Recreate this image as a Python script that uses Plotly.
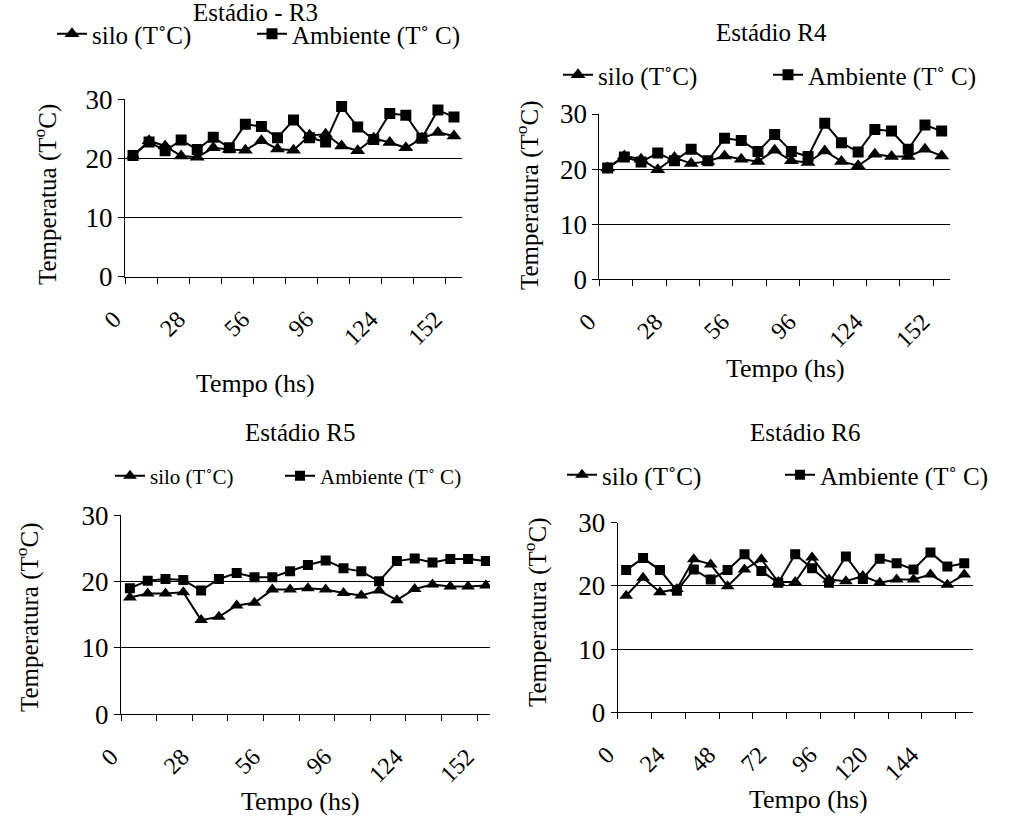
import plotly.graph_objects as go

# ---------------- data ----------------
point_index = list(range(21))

r3_silo = [20.4, 23.0, 22.1, 20.4, 20.2, 21.8, 21.5, 21.4, 23.0, 21.6, 21.4,
           23.9, 24.1, 22.1, 21.3, 23.4, 22.7, 21.8, 23.4, 24.4, 23.8]
r3_amb = [20.5, 22.8, 21.3, 23.1, 21.5, 23.6, 21.8, 25.8, 25.4, 23.5, 26.5,
          23.5, 22.8, 28.8, 25.3, 23.2, 27.6, 27.3, 23.4, 28.2, 27.0]

r4_silo = [20.2, 22.4, 21.8, 19.9, 22.1, 21.0, 21.4, 22.4, 21.8, 21.4, 23.4,
           21.5, 21.2, 23.3, 21.4, 20.6, 22.7, 22.3, 22.3, 23.6, 22.4]
r4_amb = [20.2, 22.2, 21.3, 22.9, 21.5, 23.6, 21.5, 25.6, 25.2, 23.2, 26.3,
          23.2, 22.3, 28.3, 24.8, 23.1, 27.2, 26.9, 23.6, 28.0, 26.9]

r5_silo = [17.6, 18.2, 18.2, 18.4, 14.2, 14.7, 16.4, 16.8, 18.8, 18.8, 19.0,
           18.8, 18.3, 17.9, 18.65, 17.2, 18.9, 19.55, 19.25, 19.25, 19.4]
r5_amb = [19.0, 20.15, 20.4, 20.25, 18.65, 20.4, 21.3, 20.65, 20.65, 21.55, 22.5,
          23.2, 22.0, 21.55, 20.05, 23.1, 23.5, 22.9, 23.4, 23.4, 23.1]

r6_silo = [18.45, 21.3, 19.0, 19.5, 24.2, 23.4, 19.95, 22.6, 24.2, 20.6, 20.6,
           24.5, 21.0, 20.75, 21.55, 20.5, 21.0, 21.0, 21.8, 20.2, 21.8]
r6_amb = [22.5, 24.4, 22.5, 19.25, 22.6, 21.0, 22.5, 25.0, 22.35, 20.5, 25.0,
          22.8, 20.5, 24.65, 21.1, 24.3, 23.6, 22.6, 25.3, 23.05, 23.6]

labels_a = ["0", "28", "56", "96", "124", "152"]
labels_a_idx = [0, 4, 8, 12, 16, 20]
labels_b = ["0", "24", "48", "72", "96", "120", "144"]
labels_b_idx = [0, 3, 6, 9, 12, 15, 18]

y_ticks = [0, 10, 20, 30]
series_names = ["silo (T˚C)", "Ambiente (T˚ C)"]

# ---------------- layout helpers ----------------
W, H = 1021, 816
FONT = "Liberation Serif"


def fx(p):
    return p / W


def fy(p):
    return 1 - p / H


panels = [
    dict(title="Estádio - R3", ytitle="Temperatua (T<sup>o</sup>C)",
         silo=r3_silo, amb=r3_amb, labels=labels_a, lab_idx=labels_a_idx,
         xdom=(125, 462), ydom=(99.3, 276.7), xend=20.5,
         title_pos=(255, 13), leg_pos=(62, 262, 34), ytitle_pos=(45, 195),
         xtitle_pos=(255, 383), leg_font=25, msize=(13, 11)),
    dict(title="Estádio R4", ytitle="Temperatura (T<sup>o</sup>C)",
         silo=r4_silo, amb=r4_amb, labels=labels_a, lab_idx=labels_a_idx,
         xdom=(599.3, 950), ydom=(114, 279.3), xend=20.5,
         title_pos=(771, 33), leg_pos=(568, 778, 75), ytitle_pos=(527, 195),
         xtitle_pos=(785, 369), leg_font=25, msize=(13, 11)),
    dict(title="Estádio R5", ytitle="Temperatura (T<sup>o</sup>C)",
         silo=r5_silo, amb=r5_amb, labels=labels_a, lab_idx=labels_a_idx,
         xdom=(121, 490), ydom=(515.3, 714.3), xend=-0.5 + (490 - 121) / 17.8,
         title_pos=(300, 432), leg_pos=(120, 290, 476), ytitle_pos=(27, 617),
         xtitle_pos=(300, 801), leg_font=21, msize=(12, 10)),
    dict(title="Estádio R6", ytitle="Temperatura (T<sup>o</sup>C)",
         silo=r6_silo, amb=r6_amb, labels=labels_b, lab_idx=labels_b_idx,
         xdom=(617.7, 972.7), ydom=(522.7, 712.3), xend=20.5,
         title_pos=(805, 432), leg_pos=(572, 790, 475), ytitle_pos=(535, 612),
         xtitle_pos=(808, 799), leg_font=25, msize=(12, 10)),
]

fig = go.Figure()
annotations = []
layout = {}

for i, p in enumerate(panels):
    k = "" if i == 0 else str(i + 1)
    xa, ya = "x" + k, "y" + k
    leg_a = "legend" + ("" if i == 0 else str(2 * i + 1))
    leg_b = "legend" + str(2 * i + 2)
    fig.add_trace(go.Scatter(
        x=point_index, y=p["silo"], name=series_names[0], mode="lines+markers",
        line=dict(color="black", width=2),
        marker=dict(symbol="triangle-up", size=p["msize"][0], color="black"),
        xaxis=xa, yaxis=ya, legend=leg_a, hoverinfo="skip"))
    fig.add_trace(go.Scatter(
        x=point_index, y=p["amb"], name=series_names[1], mode="lines+markers",
        line=dict(color="black", width=2),
        marker=dict(symbol="square", size=p["msize"][1], color="black"),
        xaxis=xa, yaxis=ya, legend=leg_b, hoverinfo="skip"))

    minor_vals = [v - 0.5 for v in range(0, 21, 2)]
    layout["xaxis" + k] = dict(
        domain=[fx(p["xdom"][0]), fx(p["xdom"][1])], anchor=ya,
        range=[-0.5, p["xend"]], showgrid=False, zeroline=False,
        showline=True, linecolor="black", linewidth=1,
        tickmode="array", tickvals=p["lab_idx"], ticktext=p["labels"],
        ticks="", tickangle=-45, automargin=False,
        ticklabelshift=-19, ticklabelstandoff=18,
        tickfont=dict(family=FONT, size=24, color="black"),
        minor=dict(tickmode="array", tickvals=minor_vals, ticks="outside",
                   ticklen=6, tickcolor="black", tickwidth=1, showgrid=False),
    )
    layout["yaxis" + k] = dict(
        domain=[fy(p["ydom"][1]), fy(p["ydom"][0])], anchor=xa,
        range=[0, 30], tickmode="array", tickvals=y_ticks,
        showgrid=True, gridcolor="black", gridwidth=1, zeroline=False,
        showline=True, linecolor="black", linewidth=1, automargin=False,
        ticks="outside", ticklen=6, tickcolor="black",
        tickfont=dict(family=FONT, size=27, color="black"),
    )
    for leg, xpos in ((leg_a, p["leg_pos"][0]), (leg_b, p["leg_pos"][1])):
        layout[leg] = dict(
            orientation="h", x=fx(xpos - 10), y=fy(p["leg_pos"][2]),
            xanchor="left", yanchor="middle", bgcolor="rgba(0,0,0,0)",
            font=dict(family=FONT, size=p["leg_font"], color="black"),
        )
    annotations.append(dict(
        text=p["title"], x=fx(p["title_pos"][0]), y=fy(p["title_pos"][1]),
        xref="paper", yref="paper", showarrow=False,
        xanchor="center", yanchor="middle",
        font=dict(family=FONT, size=25, color="black")))
    annotations.append(dict(
        text=p["ytitle"], x=fx(p["ytitle_pos"][0]), y=fy(p["ytitle_pos"][1]),
        xref="paper", yref="paper", showarrow=False, textangle=-90,
        xanchor="center", yanchor="middle",
        font=dict(family=FONT, size=25, color="black")))
    annotations.append(dict(
        text="Tempo (hs)", x=fx(p["xtitle_pos"][0]), y=fy(p["xtitle_pos"][1]),
        xref="paper", yref="paper", showarrow=False,
        xanchor="center", yanchor="middle",
        font=dict(family=FONT, size=26, color="black")))

fig.update_layout(
    width=W, height=H,
    margin=dict(l=0, r=0, t=0, b=0, pad=0, autoexpand=False),
    paper_bgcolor="white", plot_bgcolor="white",
    annotations=annotations, showlegend=True,
    font=dict(family=FONT, color="black"),
    **layout)

# remove the default 8px page margin so the figure fills the window exactly
fig.write_html("out.html", config={"displayModeBar": False},
               post_script="document.body.style.margin='0';"
                           "document.body.style.overflow='hidden';")
